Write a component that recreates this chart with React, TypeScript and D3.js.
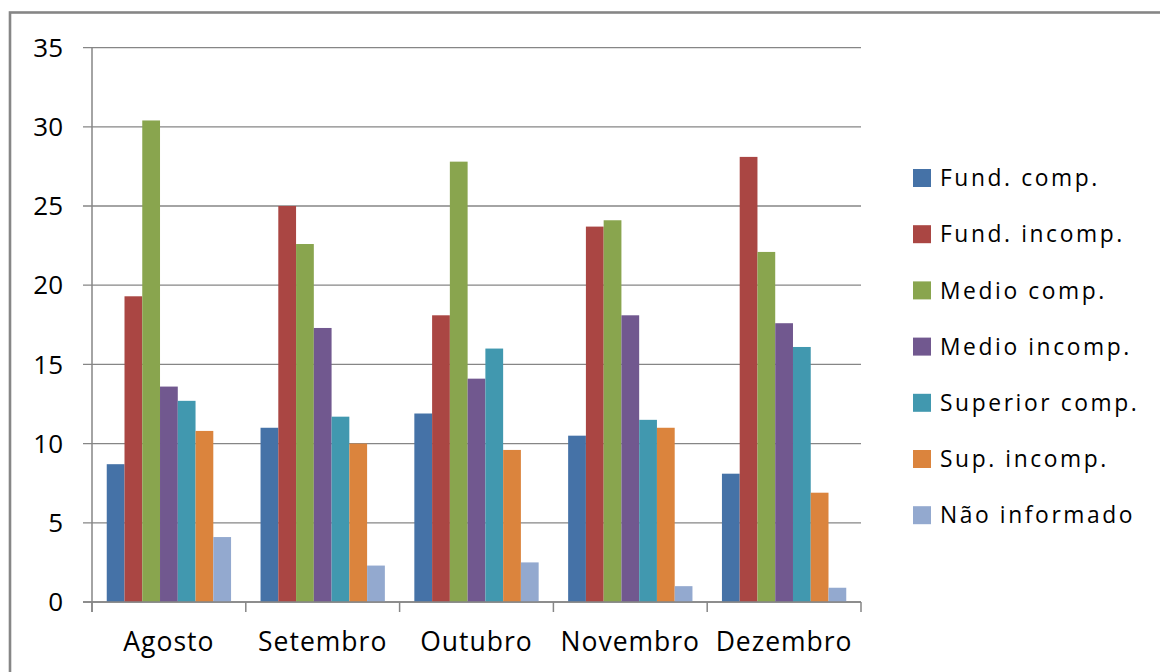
import React from "react";
import * as d3 from "d3";

const categories = ["Agosto", "Setembro", "Outubro", "Novembro", "Dezembro"];
const seriesNames = [
  "Fund. comp.",
  "Fund. incomp.",
  "Medio comp.",
  "Medio incomp.",
  "Superior comp.",
  "Sup. incomp.",
  "Não informado",
];
const fundComp = [8.7, 11.0, 11.9, 10.5, 8.1];
const fundIncomp = [19.3, 25.0, 18.1, 23.7, 28.1];
const medioComp = [30.4, 22.6, 27.8, 24.1, 22.1];
const medioIncomp = [13.6, 17.3, 14.1, 18.1, 17.6];
const superiorComp = [12.7, 11.7, 16.0, 11.5, 16.1];
const supIncomp = [10.8, 10.0, 9.6, 11.0, 6.9];
const naoInformado = [4.1, 2.3, 2.5, 1.0, 0.9];
const yTicks = [0, 5, 10, 15, 20, 25, 30, 35];
const colors = ["#4572A7", "#AA4643", "#89A54E", "#71588F", "#4198AF", "#DB843D", "#93A9CF"];

const seriesValues = [fundComp, fundIncomp, medioComp, medioIncomp, superiorComp, supIncomp, naoInformado];

const W = 1160;
const H = 672;
const plotLeft = 92;
const plotRight = 861;
const plotTop = 47.6;
const plotBottom = 602;
const axisColor = "#868686";
const font = "'Open Sans', sans-serif";

export default function App() {
  const x = d3.scaleBand<string>().domain(categories).range([plotLeft, plotRight]).paddingInner(0).paddingOuter(0);
  const xs = d3.scaleBand<string>().domain(seriesNames).range([0, x.bandwidth()]).paddingInner(0).paddingOuter(0.83);
  const y = d3.scaleLinear().domain([0, 35]).range([plotBottom, plotTop]);
  const boundaries = [...categories.map((c) => x(c) as number), plotRight];

  return (
    <svg width={W} height={H} style={{ position: "absolute", left: 0, top: 0, display: "block", background: "#fff" }}>
      <rect x={0} y={0} width={W} height={H} fill="#fff" />
      <rect x={10} y={12.5} width={W + 20} height={H + 20} fill="none" stroke={axisColor} strokeWidth={2.6} />
      {yTicks.map((t) => (
        <g key={t}>
          <line x1={plotLeft - 9} x2={plotRight} y1={y(t)} y2={y(t)} stroke={axisColor} strokeWidth={1.3} />
          <text x={63} y={y(t)} dy="0.35em" textAnchor="end" fontFamily={font} fontSize={26} fill="#000">
            {t}
          </text>
        </g>
      ))}
      {seriesNames.map((s, si) =>
        categories.map((c, ci) => (
          <rect
            key={s + c}
            x={(x(c) as number) + (xs(s) as number)}
            y={y(seriesValues[si][ci])}
            width={xs.bandwidth()}
            height={plotBottom - y(seriesValues[si][ci])}
            fill={colors[si]}
          />
        ))
      )}
      <line x1={plotLeft} x2={plotLeft} y1={plotTop} y2={plotBottom + 10} stroke={axisColor} strokeWidth={1.5} />
      <line x1={plotLeft - 9} x2={plotRight} y1={plotBottom} y2={plotBottom} stroke={axisColor} strokeWidth={1.5} />
      {boundaries.map((b, i) => (
        <line key={i} x1={b} x2={b} y1={plotBottom} y2={plotBottom + 10} stroke={axisColor} strokeWidth={1.5} />
      ))}
      {categories.map((c) => (
        <text
          key={c}
          x={(x(c) as number) + x.bandwidth() / 2}
          y={651}
          textAnchor="middle"
          fontFamily={font}
          fontSize={26.5}
          letterSpacing={1}
          fill="#000"
        >
          {c}
        </text>
      ))}
      {seriesNames.map((s, i) => {
        const cy = 178 + i * 56.2;
        return (
          <g key={s}>
            <rect x={913} y={cy - 9} width={18} height={18} fill={colors[i]} />
            <text x={940} y={cy} dy="0.36em" fontFamily={font} fontSize={22.8} letterSpacing={2.6} fill="#000">
              {s}
            </text>
          </g>
        );
      })}
    </svg>
  );
}
